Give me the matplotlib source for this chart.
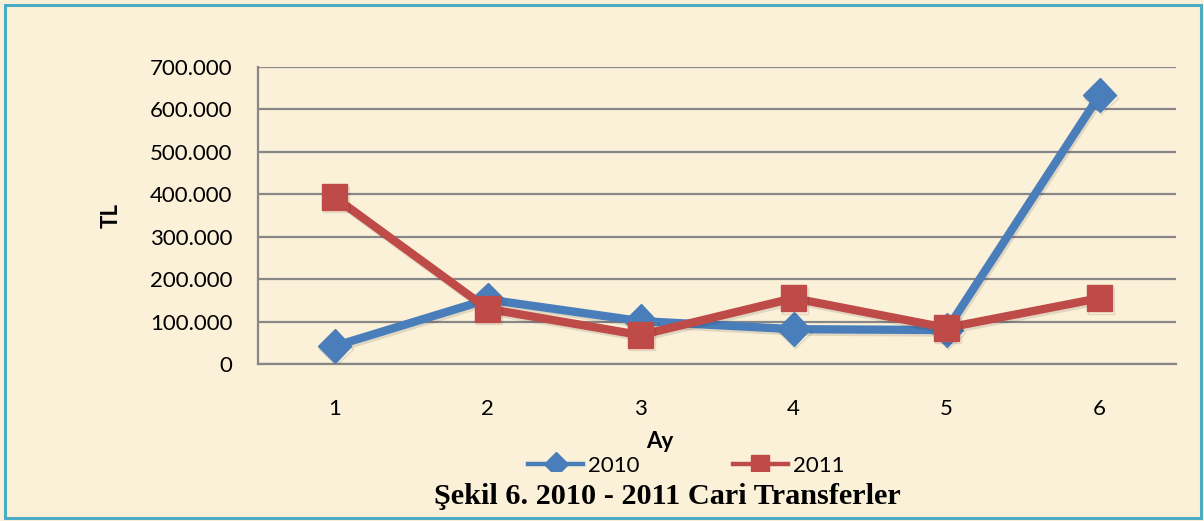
import matplotlib
matplotlib.use("Agg")
import matplotlib.pyplot as plt
from matplotlib.patches import Rectangle
from matplotlib.ticker import FuncFormatter
import matplotlib.patheffects as pe

months = [1, 2, 3, 4, 5, 6]
tick_labels = ["1", "2", "3", "4", "5", "6"]
series_2010 = [42000, 152000, 101000, 82000, 80000, 633000]
series_2011 = [393000, 130000, 68000, 155000, 85000, 155000]
y_ticks = [0, 100000, 200000, 300000, 400000, 500000, 600000, 700000]

W, H = 1204, 521
bg = "#FBF0D8"
fig = plt.figure(figsize=(W / 100, H / 100), dpi=100)
fig.patch.set_facecolor(bg)

ax = fig.add_axes([258 / W, 1 - 364 / H, (1176 - 258) / W, (364 - 66.7) / H])
ax.set_facecolor("none")

shadow = [pe.SimpleLineShadow(offset=(1.2, -1.8), shadow_color="#000000", alpha=0.10), pe.Normal()]
ax.plot(months, series_2010, color="#4A7EBB", lw=6, marker="D", markersize=17,
        markerfacecolor="#4A7EBB", markeredgecolor="#4A7EBB", label="2010", zorder=3,
        path_effects=shadow, solid_joinstyle="round")
ax.plot(months, series_2011, color="#BE4B48", lw=6, marker="s", markersize=18.5,
        markerfacecolor="#BE4B48", markeredgecolor="#BE4B48", label="2011", zorder=4,
        path_effects=shadow, solid_joinstyle="round")

ax.set_xlim(0.5, 6.5)
ax.set_ylim(0, 700000)
ax.set_yticks(y_ticks)
ax.yaxis.set_major_formatter(FuncFormatter(lambda v, p: "0" if v == 0 else f"{int(v):,}".replace(",", ".")))
ax.set_xticks(months)
ax.set_xticklabels(tick_labels)
ax.grid(axis="y", color="#878787", lw=1.6)
ax.set_axisbelow(True)
for s in ["top", "right"]:
    ax.spines[s].set_visible(False)
for s in ["left", "bottom"]:
    ax.spines[s].set_color("#878787")
    ax.spines[s].set_linewidth(1.6)
ax.tick_params(length=0, labelsize=16, colors="black")
ax.tick_params(axis="y", pad=18.5)
ax.tick_params(axis="x", pad=25)
for lab in ax.get_xticklabels() + ax.get_yticklabels():
    lab.set_fontfamily("Lato")

fig.text(660 / W, 1 - 441 / H, "Ay", ha="center", va="center", fontsize=16,
         fontweight="bold", fontfamily="Lato")
fig.text(111 / W, 1 - 215 / H, "TL", ha="center", va="center", rotation=90, fontsize=16,
         fontweight="bold", fontfamily="Lato")

leg = ax.legend(loc="center", bbox_to_anchor=(686 / W, 1 - 466 / H), bbox_transform=fig.transFigure,
                ncol=2, frameon=False, prop={"family": "Lato", "size": 16},
                handlelength=2.5, columnspacing=4.2, handletextpad=0.2, markerscale=0.72)
for line in leg.get_lines():
    line.set_path_effects([])
    line.set_linewidth(3.2)

# area below chart (covers legend bottom)
fig.add_artist(Rectangle((5 / W, 5 / H), (1198 - 5) / W, (521 - 471.5 - 5) / H,
                         transform=fig.transFigure, facecolor=bg, edgecolor="none", zorder=5))
fig.text(667.5 / W, 1 - 497 / H, "Şekil 6. 2010 - 2011 Cari Transferler", ha="center", va="center",
         fontsize=21.8, fontweight="bold", fontfamily="Liberation Serif", zorder=6)

# outer frame
fig.add_artist(Rectangle((5 / W, 3 / H), (1201 - 5) / W, (516 - 3) / H, transform=fig.transFigure,
                         facecolor="none", edgecolor="#4BACC6", lw=2.2, zorder=7))

fig.savefig("out.png", dpi=100, facecolor=bg)
